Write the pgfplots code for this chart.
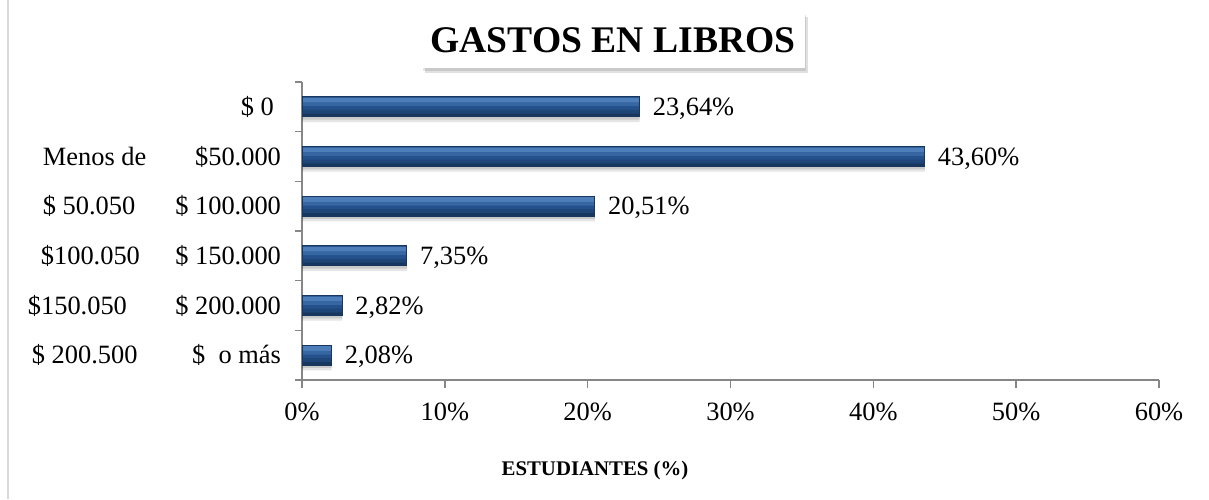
\documentclass[border=0pt]{standalone}
\usepackage{fontspec}
\setmainfont{Liberation Serif}
\usepackage{pgfplots}
\pgfplotsset{compat=1.18}
\definecolor{axisgray}{HTML}{868686}
\definecolor{barbase}{HTML}{24508B}
\definecolor{barhi}{HTML}{4E7EBA}
\definecolor{barhi2}{HTML}{3767A3}
\definecolor{barlo}{HTML}{1E4679}
\definecolor{barlo2}{HTML}{17375F}
\newcommand{\yl}[3]{\makebox[60pt][l]{\hspace{#1}#2}\hspace{6.5pt}\makebox[60pt][r]{#3}}
\pgfplotstableread{
x y lab
23.64 6 {23,64\%}
43.60 5 {43,60\%}
20.51 4 {20,51\%}
7.35 3 {7,35\%}
2.82 2 {2,82\%}
2.08 1 {2,08\%}
}\datatable
\begin{document}
\begin{tikzpicture}[x=1pt,y=1pt]
\useasboundingbox (0,0) rectangle (604.5,249.5);
\fill[white] (0,0) rectangle (604.5,249.5);
\draw[gray!30, line width=1pt] (4,0) -- (4,249.5);
\begin{axis}[
  at={(151pt,59.5pt)}, anchor=south west,
  scale only axis, width=428.5pt, height=149pt,
  xbar, bar width=10pt,
  xmin=0, xmax=60, ymin=0.5, ymax=6.5,
  xtick={0,10,...,60},
  xticklabels={0\%,10\%,20\%,30\%,40\%,50\%,60\%},
  ytick={1,2,3,4,5,6},
  yticklabels={
    {\yl{2pt}{\$ 200.500}{\$\ \ o más}},
    {\yl{0pt}{\$150.050}{\$ 200.000}},
    {\yl{6.5pt}{\$100.050}{\$ 150.000}},
    {\yl{7.5pt}{\$ 50.050}{\$ 100.000}},
    {\yl{7.5pt}{Menos de}{\$50.000}},
    {\yl{0pt}{}{\$ 0\hspace{3.5pt}}}},
  minor ytick={0.5,1.5,...,6.5},
  axis x line*=bottom, axis y line*=left,
  axis line style={axisgray, line width=0.8pt},
  tick align=outside,
  major tick length=4pt, minor tick length=3.5pt,
  major x tick style={axisgray, line width=0.8pt},
  major y tick style={draw=none},
  minor y tick style={axisgray, line width=0.8pt},
  xtick pos=bottom, ytick pos=left,
  tick label style={font=\fontsize{13.2}{15}\selectfont},
  xticklabel style={yshift=-4pt},
  yticklabel style={anchor=east, xshift=-3pt},
  clip=false,
]
% shadow
\addplot[fill=black, draw=none, opacity=0.10, bar width=10pt, bar shift=-2.6pt]
  table[x=x, y=y] {\datatable};
\addplot[fill=black, draw=none, opacity=0.12, bar width=10pt, bar shift=-1.4pt]
  table[x=x, y=y] {\datatable};
% main bar
\addplot[fill=barbase, draw=none, bar width=10pt, bar shift=0pt]
  table[x=x, y=y] {\datatable};
\addplot[fill=barhi, draw=none, bar width=2.4pt, bar shift=3.3pt]
  table[x=x, y=y] {\datatable};
\addplot[fill=barhi2, draw=none, bar width=1.8pt, bar shift=1.2pt]
  table[x=x, y=y] {\datatable};
\addplot[fill=barlo, draw=none, bar width=2pt, bar shift=-2.5pt]
  table[x=x, y=y] {\datatable};
\addplot[fill=barlo2, draw=none, bar width=1.5pt, bar shift=-4.2pt]
  table[x=x, y=y] {\datatable};
% outline + labels
\addplot[fill=none, draw=barlo2, line width=0.5pt, bar width=10pt, bar shift=0pt,
  nodes near coords, point meta=explicit symbolic,
  every node near coord/.append style={font=\fontsize{13.2}{15}\selectfont, black,
    anchor=west, xshift=3pt, yshift=-1pt}]
  table[x=x, y=y, meta=lab] {\datatable};
\end{axis}
\fill[black, opacity=0.12] (212.25,213) rectangle (403.75,241);
\fill[black, opacity=0.10] (211.25,214) rectangle (402.75,242);
\node[fill=white, minimum width=191.5pt, minimum height=28pt, inner sep=0pt,
  font=\fontsize{18.8}{22}\selectfont\bfseries] at (306.5,229.5) {GASTOS EN LIBROS};
\node[font=\fontsize{10.4}{12}\selectfont\bfseries] at (297.5,14.5) {ESTUDIANTES (\%)};
\end{tikzpicture}
\end{document}
